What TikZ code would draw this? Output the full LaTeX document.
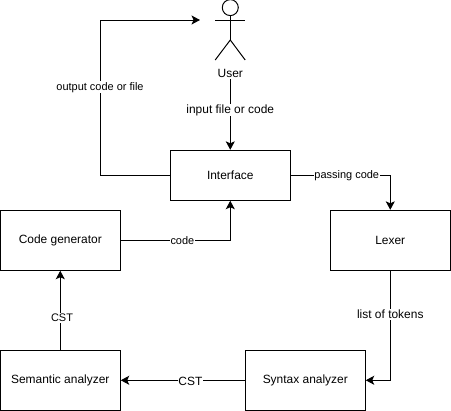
\documentclass[tikz,border=0pt]{standalone}
\usepackage{fontspec}
\setmainfont{Liberation Sans}
\usetikzlibrary{arrows.meta}
\tikzset{
  block/.style={draw, line width=0.7pt, minimum width=3cm, minimum height=1.5cm, inner sep=0pt, font=\fontsize{8.5}{10}\selectfont},
  flow/.style={draw, line width=0.7pt, -{Stealth[length=6pt,width=6.4pt,inset=1.4pt]}},
  tag/.style={fill=white, inner sep=0.6pt, font=\fontsize{7.8}{9}\selectfont},
  bigtag/.style={tag, font=\fontsize{8.5}{10}\selectfont},
  limb/.style={line width=0.7pt}
}
\begin{document}
\begin{tikzpicture}
\useasboundingbox (0,0) rectangle (11.275,-10.275);
\node[block, minimum height=1.25cm] (interface) at (5.757,-4.382) {Interface};
\node[block] (codegen) at (1.507,-6.007) {Code generator};
\node[block] (lexer) at (9.757,-6.007) {Lexer};
\node[block] (semantic) at (1.507,-9.507) {Semantic analyzer};
\node[block] (syntax) at (7.632,-9.507) {Syntax analyzer};
% actor
\node[draw, circle, line width=0.7pt, minimum size=0.4cm, inner sep=0pt] (head) at (5.757,-0.19) {};
\coordinate (hip) at (5.757,-1.0);
\draw[limb] (head.south) -- (hip);
\draw[limb] (5.38,-0.5) -- (6.13,-0.5);
\draw[limb] (5.38,-1.5) -- (hip) -- (6.13,-1.5);
\node[font=\fontsize{8.5}{10}\selectfont, inner sep=1pt] (user) at (5.757,-1.83) {User};
% connectors
\coordinate (corner) at (2.5,-0.5);
\coordinate (actorside) at (5.0,-0.5);
\draw[flow] (user) -- (interface);
\draw[flow] (interface.west) -| (corner) -- (actorside);
\draw[flow] (interface.east) -| (lexer.north);
\draw[flow] (lexer.south) |- (syntax.east);
\draw[flow] (syntax.west) -- (semantic.east);
\draw[flow] (semantic.north) -- (codegen.south);
\draw[flow] (codegen.east) -| (interface.south);
% labels
\node[tag] (tagoutput) at (2.5,-2.18) {output code or file};
\node[bigtag] (taginput) at (5.757,-2.75) {input file or code};
\node[tag] (tagpassing) at (8.67,-4.39) {passing code};
\node[tag] (tagcode) at (4.56,-6.02) {code};
\node[bigtag] (tagtokens) at (9.757,-7.86) {list of tokens};
\node[bigtag] (tagcstleft) at (4.76,-9.53) {CST};
\node[tag] (tagcstup) at (1.55,-7.95) {CST};
\end{tikzpicture}
\end{document}
